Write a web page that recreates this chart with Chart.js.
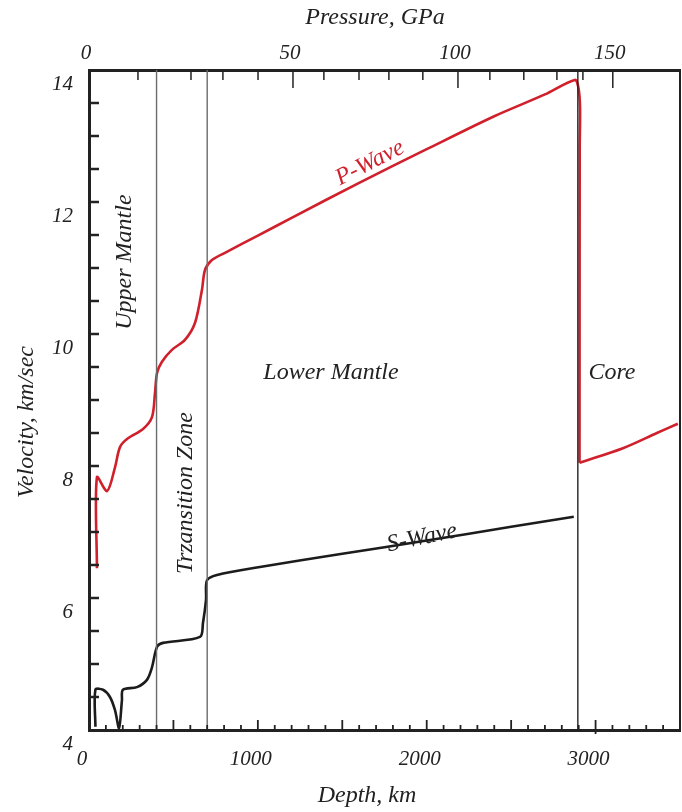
<!DOCTYPE html>
<html>
<head>
<meta charset="utf-8">
<script src="https://cdn.jsdelivr.net/npm/chart.js@4.4.0/dist/chart.umd.min.js"></script>
<style>
  body { margin: 0; background: #fff; }
  #wrap { width: 682px; height: 812px; }
</style>
</head>
<body>
<div id="wrap"><canvas id="chart" width="682" height="812"></canvas></div>
<script>
// seismic velocity profile, km/s against depth in km
const pDepth = [47, 47, 107, 154, 184, 231, 320, 373, 391, 403, 432, 491, 568, 628, 669, 687, 728, 805,
  1000, 1200, 1600, 2000, 2400, 2700, 2877, 2898, 2908, 2906, 2905];
const pVel = [6.45, 7.83, 7.62, 7.98, 8.29, 8.42, 8.56, 8.74, 9.11, 9.41, 9.58, 9.76, 9.91, 10.17, 10.67, 10.97, 11.12, 11.23,
  11.49, 11.76, 12.29, 12.80, 13.30, 13.63, 13.85, 13.74, 13.44, 12.80, 8.05];

// P-wave in the outer core, starting from the foot of the drop
const pCoreDepth = [2905, 3162, 3363, 3487];
const pCoreVel = [8.05, 8.27, 8.50, 8.64];

const sDepth = [38, 38, 83, 124, 154, 178, 195, 201, 284, 343, 373, 403, 438, 657, 675, 693, 699, 758,
  1012, 1500, 2000, 2500, 2871];
const sVel = [4.05, 4.61, 4.61, 4.50, 4.30, 4.03, 4.45, 4.61, 4.65, 4.76, 4.95, 5.26, 5.32, 5.41, 5.62, 5.97, 6.27, 6.35,
  6.47, 6.67, 6.87, 7.08, 7.23];

// 400 km, 700 km and core-mantle boundary
const boundaryDepth = [400, 700, 2895];

// pressure scale on top: GPa value and the depth where it is reached
const pressureTicks = [0, 10, 20, 30, 40, 50, 60, 70, 80, 90, 100, 110, 120, 130, 140, 150];
const pressureDepth = [0, 290, 604, 793, 1001, 1208, 1391, 1599, 1776, 1977, 2185, 2374, 2575, 2771, 2925, 3102];

// text placed in data coordinates: [text, depth, velocity, angle in degrees, colour]
const regionLabels = [
  ['Upper Mantle', 213, 11.09, -90, '#222'],
  ['Trzansition Zone', 574, 7.59, -90, '#222'],
  ['Lower Mantle', 1433, 9.42, 0, '#222'],
  ['Core', 3097, 9.42, 0, '#222'],
  ['P-Wave', 1664, 12.59, -27, '#d0202c'],
  ['S-Wave', 1972, 6.91, -12, '#222']
];

const ink = '#222';
const red = '#d0202c';
const tickFont = { family: '"Liberation Serif", serif', style: 'italic', size: 21 };
const textFont = 'italic 24px "Liberation Serif", serif';

const toPoints = (xs, ys) => xs.map((x, i) => ({ x: x, y: ys[i] }));

const lineStyle = color => ({ borderColor: color, borderWidth: 2.6, pointRadius: 0, tension: 0.3 });

// keep the frame exactly where the axes are fitted
const noPad = s => { s.paddingLeft = 0; s.paddingRight = 0; s.paddingTop = 0; s.paddingBottom = 0; };

// tick marks on the inside of the frame
const innerTicks = {
  id: 'innerTicks',
  afterDraw(chart) {
    const { ctx, chartArea: a, scales } = chart;
    ctx.save();
    ctx.strokeStyle = ink;
    ctx.lineCap = 'butt';

    ctx.lineWidth = 2.5;
    scales.y.ticks.forEach(t => {
      if (t.value <= 4 || t.value >= 14) return;
      const y = scales.y.getPixelForValue(t.value);
      ctx.beginPath();
      ctx.moveTo(a.left, y);
      ctx.lineTo(a.left + 10, y);
      ctx.stroke();
    });

    ctx.lineWidth = 1.8;
    scales.x.ticks.forEach(t => {
      if (t.value <= 0) return;
      const x = scales.x.getPixelForValue(t.value);
      const len = t.value % 500 === 0 ? 10 : 5;
      ctx.beginPath();
      ctx.moveTo(x, t.value === 3000 ? a.bottom + 4 : a.bottom);
      ctx.lineTo(x, a.bottom - len);
      ctx.stroke();
    });

    ctx.lineWidth = 1.5;
    scales.xTop.ticks.forEach((t, i) => {
      if (pressureTicks[i] === 0) return;
      const x = scales.xTop.getPixelForValue(t.value);
      const len = pressureTicks[i] % 50 === 0 ? 18 : 10;
      ctx.beginPath();
      ctx.moveTo(x, a.top);
      ctx.lineTo(x, a.top + len);
      ctx.stroke();
    });
    ctx.restore();
  }
};

// axis titles and region names
const annotations = {
  id: 'annotations',
  afterDraw(chart) {
    const { ctx, scales: { x, y } } = chart;
    const put = (text, px, py, angle, color) => {
      ctx.save();
      ctx.translate(px, py);
      ctx.rotate(angle * Math.PI / 180);
      ctx.fillStyle = color;
      ctx.font = textFont;
      ctx.textAlign = 'center';
      ctx.textBaseline = 'middle';
      ctx.fillText(text, 0, 0);
      ctx.restore();
    };
    regionLabels.forEach(([text, d, v, angle, color]) => {
      put(text, x.getPixelForValue(d), y.getPixelForValue(v), angle, color);
    });
    put('Pressure, GPa', 375, 18, 0, ink);
    put('Depth, km', 367, 796, 0, ink);
    put('Velocity, km/sec', 27, 422, -90, ink);
  }
};

new Chart(document.getElementById('chart'), {
  type: 'line',
  data: {
    datasets: [
      ...boundaryDepth.map((d, i) => ({
        data: [{ x: d, y: 4 }, { x: d, y: 14 }],
        borderColor: i < 2 ? '#6b6b6b' : ink,
        borderWidth: 1.4,
        pointRadius: 0
      })),
      { label: 'P-Wave', data: toPoints(pDepth, pVel), ...lineStyle(red) },
      { label: 'P-Wave core', data: toPoints(pCoreDepth, pCoreVel), ...lineStyle(red) },
      { label: 'S-Wave', data: toPoints(sDepth, sVel), ...lineStyle('#1c1c1c') }
    ]
  },
  options: {
    responsive: false,
    animation: false,
    layout: { padding: 0 },
    plugins: { legend: { display: false }, tooltip: { enabled: false } },
    scales: {
      x: {
        type: 'linear',
        position: 'bottom',
        min: 0,
        max: 3500,
        grid: { display: false, drawTicks: false },
        border: { display: true, width: 3, color: ink },
        ticks: {
          stepSize: 100,
          autoSkip: false,
          maxRotation: 0,
          labelOffset: -7,
          padding: 17,
          font: tickFont,
          color: ink,
          callback: v => (v % 1000 === 0 ? v : '')
        },
        afterFit: s => { s.height = 82; noPad(s); }
      },
      xTop: {
        type: 'linear',
        position: 'top',
        min: 0,
        max: 3500,
        grid: { display: false, drawTicks: false },
        border: { display: true, width: 3, color: ink },
        afterBuildTicks: s => { s.ticks = pressureDepth.map(v => ({ value: v })); },
        ticks: {
          autoSkip: false,
          maxRotation: 0,
          labelOffset: -3,
          padding: 4,
          font: tickFont,
          color: ink,
          callback: (v, i) => (pressureTicks[i] % 50 === 0 ? pressureTicks[i] : '')
        },
        afterFit: s => { s.height = 70; noPad(s); }
      },
      y: {
        type: 'linear',
        position: 'left',
        min: 4,
        max: 14,
        grid: { display: false, drawTicks: false },
        border: { display: true, width: 3, color: ink },
        ticks: {
          stepSize: 0.5,
          autoSkip: false,
          labelOffset: 14,
          padding: 16,
          font: tickFont,
          color: ink,
          callback: v => (v % 2 === 0 ? v : '')
        },
        afterFit: s => { s.width = 89; noPad(s); }
      },
      yRight: {
        type: 'linear',
        position: 'right',
        min: 4,
        max: 14,
        grid: { display: false, drawTicks: false },
        border: { display: true, width: 2, color: ink },
        ticks: { display: false },
        afterFit: s => { s.width = 2; noPad(s); }
      }
    }
  },
  plugins: [innerTicks, annotations]
});
</script>
</body>
</html>
